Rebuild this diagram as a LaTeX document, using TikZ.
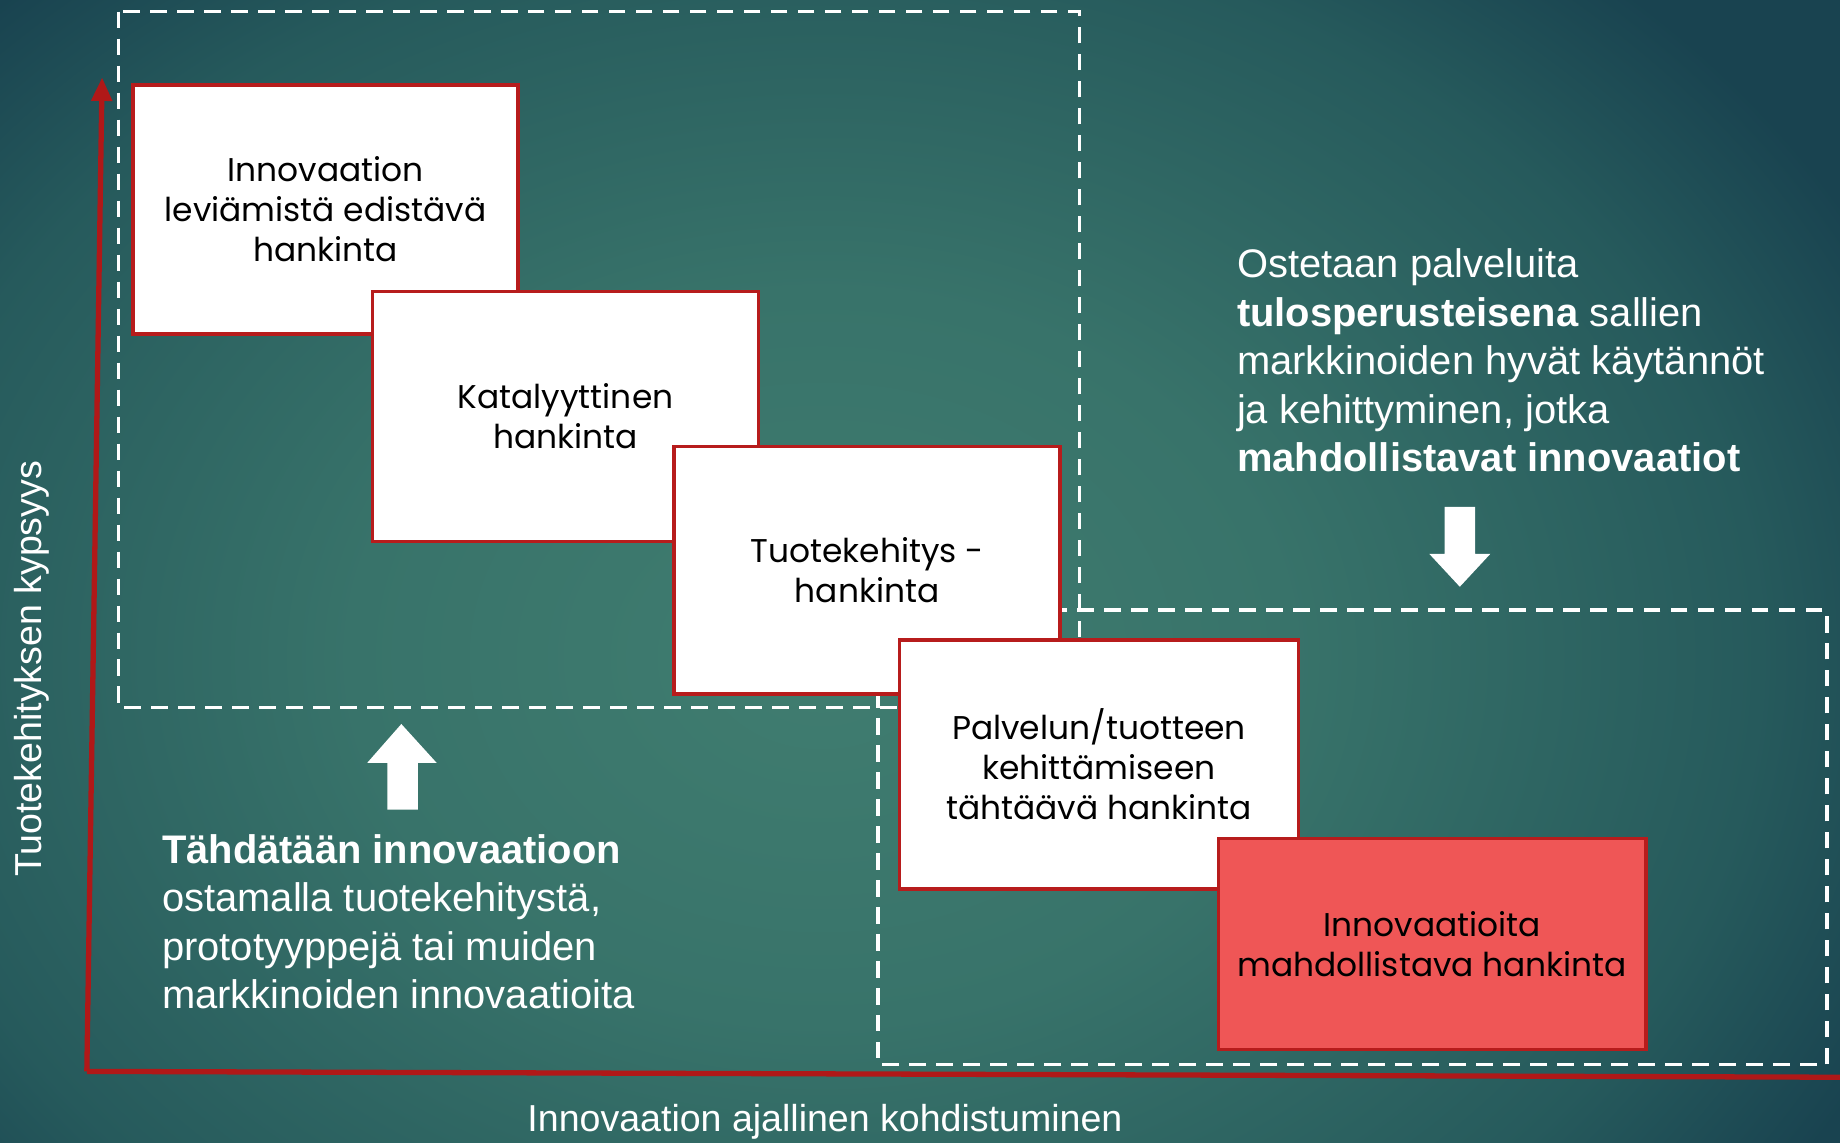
\documentclass[tikz,border=0pt]{standalone}
\usepackage{fontspec}
\setmainfont{Liberation Sans}
\newfontfamily\boxfont{Poppins}
\usetikzlibrary{arrows.meta}
\definecolor{bgin}{RGB}{64,125,112}
\definecolor{bgmid}{RGB}{56,115,106}
\definecolor{bgdeep}{RGB}{38,90,92}
\definecolor{bgout}{RGB}{25,67,80}
\definecolor{axisred}{RGB}{176,24,24}
\definecolor{boxred}{RGB}{183,28,28}
\definecolor{salmon}{RGB}{239,86,86}
% the filled path's bounding box maps onto the central 50bp square
\pgfdeclareradialshading{bgglow}{\pgfpoint{0bp}{0bp}}{color(0bp)=(bgin); color(10bp)=(bgmid); color(20bp)=(bgdeep); color(25bp)=(bgout); color(50bp)=(bgout)}

\begin{document}
\begin{tikzpicture}[x=1pt,y=-1pt,
  stagebox/.style={draw=boxred, line width=3pt, fill=white, inner sep=0pt,
    align=center, font=\boxfont\fontsize{28}{34}\selectfont, text=black},
  zone/.style={draw=white, line width=3pt, dash pattern=on 14pt off 9pt},
  axis/.style={draw=axisred, line width=4.5pt},
  note/.style={text=white, align=left, inner sep=0pt, anchor=north west,
    font=\fontsize{34}{41.3}\selectfont},
  axislabel/.style={text=white, inner sep=0pt, font=\fontsize{32}{38}\selectfont},
  blockarrow/.style={fill=white, draw=none}]

\useasboundingbox (0,0) rectangle (1568,974);
\begin{scope}
  \clip (0,0) rectangle (1568,974);
  \shade[shading=bgglow] (-300,-220) rectangle (1700,1340);
\end{scope}

% dashed zones
\draw[zone] (101,10) rectangle (920,603);
\draw[zone] (748,520) rectangle (1557,907);

% axes
\coordinate (origin) at (74,913);
\coordinate (ytip) at (87,66);
\coordinate (xend) at (1572,918);
\draw[axis] (origin) -- (xend);
\draw[axis, -{Triangle[length=20pt,width=17pt]}] (origin) -- (ytip);

% procurement stages
\node[stagebox, minimum width=328pt, minimum height=212pt] (s1) at (277.5,178.5)
  {Innovaation\\leviämistä edistävä\\hankinta};
\node[stagebox, minimum width=329pt, minimum height=213pt] (s2) at (482,355)
  {Katalyyttinen\\hankinta};
\node[stagebox, minimum width=329pt, minimum height=211pt] (s3) at (739,486)
  {Tuotekehitys -\\hankinta};
\node[stagebox, minimum width=340pt, minimum height=212pt] (s4) at (936.5,651.5)
  {Palvelun/tuotteen\\kehittämiseen\\tähtäävä hankinta};
\node[stagebox, fill=salmon, minimum width=364pt, minimum height=180pt] (s5) at (1220.5,804.5)
  {Innovaatioita\\mahdollistava hankinta};

% block arrows
\fill[blockarrow] (342,617) -- (372,650) -- (356,650) -- (356,690) -- (330,690)
  -- (330,650) -- (313,650) -- cycle;
\fill[blockarrow] (1244,500) -- (1270,472) -- (1257,472) -- (1257,432) -- (1231,432)
  -- (1231,472) -- (1218,472) -- cycle;

% notes
\node[note] (upper) at (1054,212)
  {Ostetaan palveluita\\\textbf{tulosperusteisena} sallien\\markkinoiden hyvät käytännöt\\ja kehittyminen, jotka\\\textbf{mahdollistavat innovaatiot}};
\node[note] (lower) at (138,711)
  {\textbf{Tähdätään innovaatioon}\\ostamalla tuotekehitystä,\\prototyyppejä tai muiden\\markkinoiden innovaatioita};

% axis labels
\node[axislabel, rotate=90] (ylab) at (27,570) {Tuotekehityksen kypsyys};
\node[axislabel] (xlab) at (703,956) {Innovaation ajallinen kohdistuminen};
\end{tikzpicture}
\end{document}
